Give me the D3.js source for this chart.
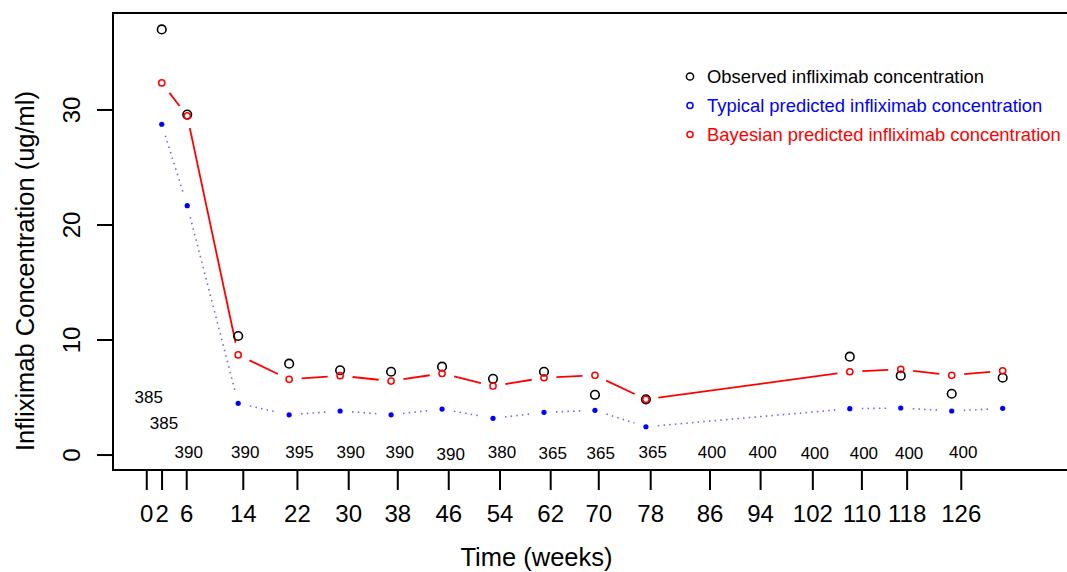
<!DOCTYPE html>
<html>
<head>
<meta charset="utf-8">
<script src="https://cdn.jsdelivr.net/npm/d3@7"></script>
<style>
  body { margin: 0; background: #fff; }
  svg { display: block; font-family: "Liberation Sans", Arial, sans-serif; }
</style>
</head>
<body>
<div id="chart"></div>
<script>
// sampling times (weeks) and concentrations (ug/ml)
const sampleWeeks = [2, 6, 14, 22, 30, 38, 46, 54, 62, 70, 78, 110, 118, 126, 134];
const observed = [37.0, 29.6, 10.35, 7.94, 7.37, 7.24, 7.68, 6.63, 7.24, 5.24, 4.84, 8.55, 6.9, 5.33, 6.72];
const typical = [28.76, 21.68, 4.5, 3.5, 3.83, 3.5, 4.0, 3.19, 3.71, 3.89, 2.46, 4.03, 4.09, 3.83, 4.06];
const bayesian = [32.35, 29.48, 8.7, 6.58, 6.9, 6.43, 7.1, 6.0, 6.72, 6.93, 4.84, 7.24, 7.45, 6.93, 7.33];

// dosing: actual time (weeks), nominal label, dose (mg), level of the dose label (ug/ml)
const doseWeeks = [-0.35, 2.05, 5.92, 14.8, 23.3, 31.35, 39.05, 47.05, 55.1, 63.05, 70.6, 78.75, 88.06, 96.0, 104.2, 111.9, 119.0, 127.5];
const doseTickLabels = ["0", "2", "6", "14", "22", "30", "38", "46", "54", "62", "70", "78", "86", "94", "102", "110", "118", "126"];
const doseAmounts = [385, 385, 390, 390, 395, 390, 390, 390, 380, 365, 365, 365, 400, 400, 400, 400, 400, 400];
const doseLabelLevel = [5.0, 2.8, 0.25, 0.25, 0.25, 0.25, 0.25, 0.1, 0.3, 0.15, 0.15, 0.3, 0.3, 0.3, 0.15, 0.15, 0.15, 0.3];

const yTicks = [0, 10, 20, 30];
const legendItems = [
  { label: "Observed infliximab concentration", color: "#000000", r: 3.6 },
  { label: "Typical predicted infliximab concentration", color: "#0000ff", r: 3 },
  { label: "Bayesian predicted infliximab concentration", color: "#ff0000", r: 3 }
];

const W = 1067, H = 572;
const box = { left: 113, right: 1075, top: 13, bottom: 470 };

const svg = d3.select("#chart").append("svg")
  .attr("width", W)
  .attr("height", H);

const x = d3.scaleLinear().domain([-5.65, 145.35]).range([box.left, box.right]);
const y = d3.scaleLinear().domain([-1.3, 38.43]).range([box.bottom, box.top]);

// box
svg.append("rect")
  .attr("x", box.left).attr("y", box.top)
  .attr("width", box.right - box.left).attr("height", box.bottom - box.top)
  .attr("fill", "none").attr("stroke", "#000").attr("stroke-width", 2);

// y axis (R style: labels parallel to axis)
const yAxis = svg.append("g");
yAxis.selectAll("line").data(yTicks).enter().append("line")
  .attr("x1", box.left - 16).attr("x2", box.left)
  .attr("y1", d => y(d)).attr("y2", d => y(d))
  .attr("stroke", "#000").attr("stroke-width", 2);
yAxis.selectAll("text").data(yTicks).enter().append("text")
  .attr("transform", d => `translate(80,${y(d)}) rotate(-90)`)
  .attr("text-anchor", "middle")
  .attr("font-size", 24)
  .text(d => d);

// x axis: ticks at dosing times, labelled with nominal week
const xAxis = svg.append("g");
xAxis.selectAll("line").data(doseWeeks).enter().append("line")
  .attr("x1", d => x(d)).attr("x2", d => x(d))
  .attr("y1", box.bottom).attr("y2", box.bottom + 20)
  .attr("stroke", "#000").attr("stroke-width", 2);
xAxis.selectAll("text").data(doseWeeks).enter().append("text")
  .attr("x", d => x(d)).attr("y", 522)
  .attr("text-anchor", "middle")
  .attr("font-size", 24)
  .text((d, i) => doseTickLabels[i]);

// titles
svg.append("text")
  .attr("x", (box.left + 960) / 2).attr("y", 566)
  .attr("text-anchor", "middle")
  .attr("font-size", 25.5)
  .text("Time (weeks)");
svg.append("text")
  .attr("transform", "translate(34,271) rotate(-90)")
  .attr("text-anchor", "middle")
  .attr("font-size", 25.5)
  .text("Infliximab Concentration (ug/ml)");

// dose labels
svg.append("g").selectAll("text").data(doseAmounts).enter().append("text")
  .attr("x", (d, i) => x(doseWeeks[i]) + 2)
  .attr("y", (d, i) => y(doseLabelLevel[i]))
  .attr("dy", "0.35em")
  .attr("text-anchor", "middle")
  .attr("font-size", 17)
  .text(d => d);

// R type="b" lines: segments with a gap around every point
function gapLines(values, gap) {
  const pts = values.map((v, i) => [x(sampleWeeks[i]), y(v)]);
  const segs = [];
  for (let i = 0; i < pts.length - 1; i++) {
    const [x1, y1] = pts[i], [x2, y2] = pts[i + 1];
    const len = Math.hypot(x2 - x1, y2 - y1);
    if (len <= 2 * gap) continue;
    const ux = (x2 - x1) / len, uy = (y2 - y1) / len;
    segs.push([x1 + ux * gap, y1 + uy * gap, x2 - ux * gap, y2 - uy * gap]);
  }
  return segs;
}

svg.append("g").selectAll("line").data(gapLines(typical, 12)).enter().append("line")
  .attr("x1", d => d[0]).attr("y1", d => d[1]).attr("x2", d => d[2]).attr("y2", d => d[3])
  .attr("stroke", "#3333ff").attr("stroke-width", 1.6)
  .attr("stroke-dasharray", "1.5 4.2")
  .attr("opacity", 0.75);

svg.append("g").selectAll("line").data(gapLines(bayesian, 12.5)).enter().append("line")
  .attr("x1", d => d[0]).attr("y1", d => d[1]).attr("x2", d => d[2]).attr("y2", d => d[3])
  .attr("stroke", "#ff0000").attr("stroke-width", 1.8);

// points
svg.append("g").selectAll("circle").data(observed).enter().append("circle")
  .attr("cx", (d, i) => x(sampleWeeks[i])).attr("cy", d => y(d))
  .attr("r", 4.3)
  .attr("fill", "none").attr("stroke", "#000").attr("stroke-width", 1.6);

svg.append("g").selectAll("circle").data(typical).enter().append("circle")
  .attr("cx", (d, i) => x(sampleWeeks[i])).attr("cy", d => y(d))
  .attr("r", 2.6)
  .attr("fill", "#0000ff");

svg.append("g").selectAll("circle").data(bayesian).enter().append("circle")
  .attr("cx", (d, i) => x(sampleWeeks[i])).attr("cy", d => y(d))
  .attr("r", 3.1)
  .attr("fill", "none").attr("stroke", "#ff0000").attr("stroke-width", 1.5);

// legend
const legend = svg.append("g").attr("transform", "translate(690,76.5)");
const row = legend.selectAll("g").data(legendItems).enter().append("g")
  .attr("transform", (d, i) => `translate(0,${i * 29})`);
row.append("circle")
  .attr("r", d => d.r)
  .attr("fill", "none").attr("stroke", d => d.color).attr("stroke-width", 1.5);
row.append("text")
  .attr("x", 17).attr("dy", "0.35em")
  .attr("font-size", 18.4)
  .attr("fill", d => d.color)
  .text(d => d.label);
</script>
</body>
</html>
